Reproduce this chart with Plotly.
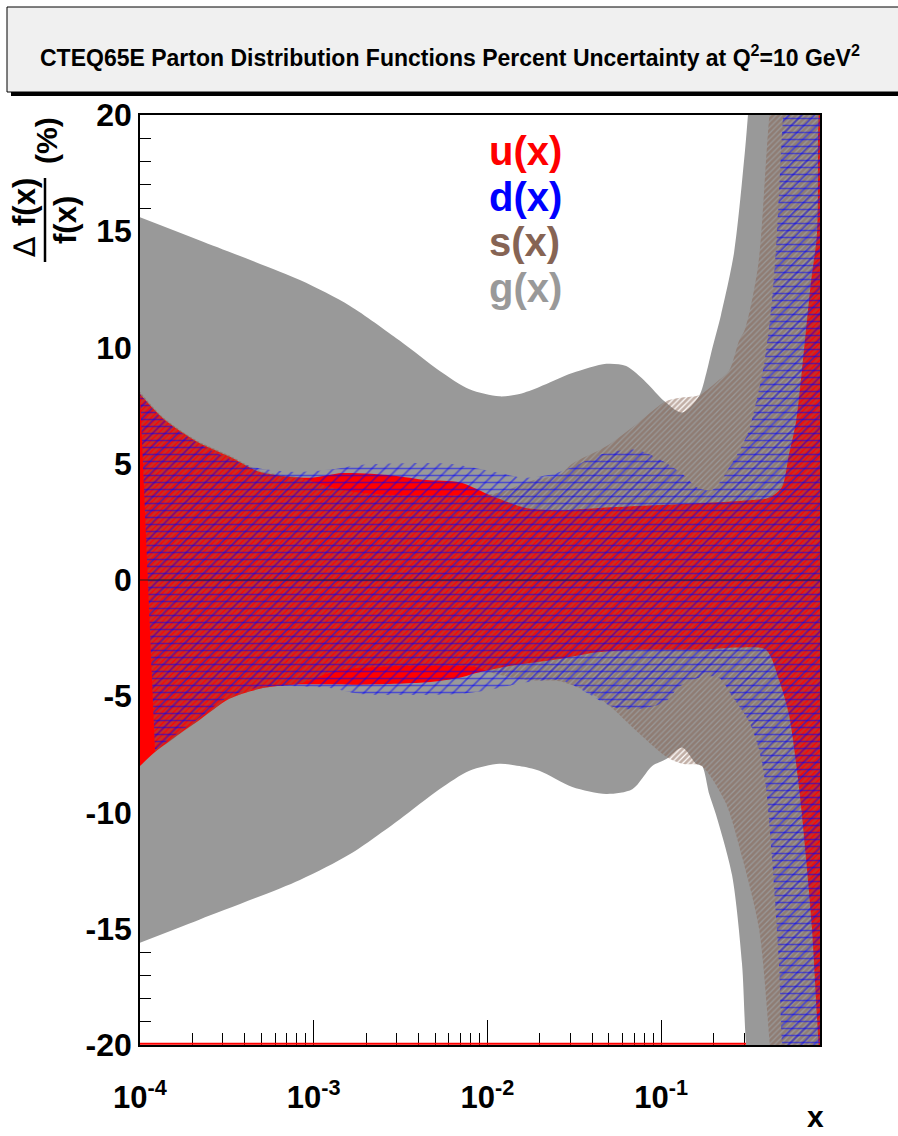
import math
import plotly.graph_objects as go

# ---------------- data (x = Bjorken x, y = percent uncertainty) ----------------
# g(x) band
G_UP_X = [1.00e-4, 2.21e-4, 8.33e-4, 1.61e-3, 3.12e-3, 5.29e-3, 7.88e-3, 1.17e-2, 1.53e-2, 1.99e-2,
          3.08e-2, 4.83e-2, 6.29e-2, 8.20e-2, 0.104, 0.132, 0.165, 0.182, 0.196, 0.221, 0.263,
          0.304, 0.316, 0.366, 0.821]
G_UP = [15.6, 14.6, 12.9, 11.8, 10.3, 9.0, 8.2, 7.9, 8.0, 8.3,
        8.9, 9.3, 9.2, 8.5, 7.7, 7.2, 7.9, 8.9, 9.9, 11.4, 14.1,
        18.5, 20.0, 26.0, 40.0]
G_LO_X = [1.00e-4, 2.21e-4, 8.33e-4, 1.61e-3, 3.12e-3, 5.29e-3, 7.88e-3, 1.17e-2, 1.53e-2, 1.99e-2,
          3.08e-2, 4.83e-2, 6.82e-2, 8.88e-2, 0.107, 0.132, 0.159, 0.172, 0.189, 0.207, 0.256,
          0.292, 0.308, 0.366, 0.821]
G_LO = [-15.6, -14.6, -12.9, -11.8, -10.3, -9.0, -8.2, -7.9, -8.0, -8.2,
        -8.9, -9.2, -9.0, -8.0, -7.7, -7.2, -7.9, -8.0, -9.2, -10.1, -12.7,
        -16.5, -20.0, -26.0, -40.0]

# u(x) band
U_UP_X = [1.00e-4, 1.36e-4, 2.13e-4, 3.29e-4, 4.89e-4, 9.49e-4, 1.47e-3, 2.84e-3, 4.46e-3, 6.90e-3,
          1.07e-2, 1.67e-2, 2.59e-2, 4.41e-2, 8.54e-2, 0.165, 0.281, 0.401, 0.434, 0.496, 0.544,
          0.597, 0.646, 0.728, 0.789, 0.800, 0.810, 0.821]
U_UP = [8.0, 6.95, 5.95, 5.3, 4.65, 4.4, 4.6, 4.5, 4.3, 4.2,
        3.6, 3.1, 3.0, 3.1, 3.2, 3.3, 3.4, 3.5, 3.6, 4.0, 5.4,
        6.8, 9.0, 12.8, 14.9, 19.2, 20.5, 23.0]
U_LO_X = [1.00e-4, 1.22e-4, 1.70e-4, 2.13e-4, 3.29e-4, 5.09e-4, 7.58e-4, 1.84e-3, 4.46e-3, 6.90e-3,
          8.64e-3, 1.34e-2, 2.59e-2, 4.41e-2, 7.47e-2, 0.165, 0.281, 0.401, 0.477, 0.544, 0.621,
          0.681, 0.738, 0.800, 0.821]
U_LO = [-8.0, -7.4, -6.6, -6.1, -5.1, -4.65, -4.5, -4.5, -4.4, -4.2,
        -4.0, -3.7, -3.4, -3.1, -3.0, -3.0, -2.9, -3.0, -4.3, -5.8, -8.9,
        -11.9, -15.0, -19.6, -21.0]

# s(x) band
S_UP_X = [1.00e-4, 1.36e-4, 2.13e-4, 3.29e-4, 4.89e-4, 8.33e-4, 1.24e-3, 1.84e-3, 3.12e-3, 6.90e-3,
          1.07e-2, 1.34e-2, 1.67e-2, 2.13e-2, 2.59e-2, 3.08e-2, 4.83e-2, 7.47e-2, 0.107, 0.132,
          0.165, 0.207, 0.246, 0.281, 0.304, 0.361, 0.423, 0.821]
S_UP = [8.1, 7.0, 6.0, 5.35, 4.7, 4.4, 4.0, 3.75, 3.65, 3.65,
        3.7, 3.9, 4.2, 4.4, 4.5, 5.0, 5.75, 6.8, 7.7, 7.85,
        7.95, 8.5, 9.0, 10.3, 10.8, 13.5, 20.3, 40.0]
S_LO_X = [1.22e-4, 2.13e-4, 3.29e-4, 5.09e-4, 8.33e-4, 1.36e-3, 3.12e-3, 6.90e-3, 8.64e-3, 1.07e-2,
          1.67e-2, 2.59e-2, 3.52e-2, 4.83e-2, 7.47e-2, 0.107, 0.132, 0.165, 0.182, 0.236, 0.292,
          0.366, 0.418, 0.428, 0.821]
S_LO = [-7.4, -6.1, -5.1, -4.65, -4.45, -3.9, -3.7, -3.7, -3.75, -4.0,
        -4.3, -4.35, -4.7, -5.3, -6.6, -7.6, -7.9, -7.95, -8.2, -9.6, -11.9,
        -15.0, -19.6, -20.5, -40.0]

# d(x) band
D_UP_X = [1.00e-4, 1.36e-4, 2.13e-4, 3.29e-4, 4.89e-4, 8.33e-4, 1.24e-3, 1.84e-3, 2.49e-3, 6.04e-3,
          1.02e-2, 1.67e-2, 2.50e-2, 4.83e-2, 7.18e-2, 0.107, 0.139, 0.159, 0.196, 0.256, 0.316,
          0.361, 0.396, 0.434, 0.464, 0.496, 0.509, 0.821]
D_UP = [8.0, 6.9, 5.9, 5.2, 4.8, 4.65, 4.75, 4.95, 5.0, 5.0,
        4.7, 4.4, 4.6, 5.46, 5.6, 5.03, 4.43, 4.0, 3.87, 5.03, 6.32,
        8.0, 9.5, 12.0, 14.9, 19.2, 20.5, 40.0]
D_LO_X = [1.22e-4, 2.13e-4, 3.29e-4, 5.09e-4, 1.24e-3, 1.84e-3, 6.90e-3, 1.07e-2, 1.67e-2, 2.59e-2,
          3.08e-2, 5.51e-2, 8.20e-2, 0.107, 0.127, 0.165, 0.215, 0.256, 0.321, 0.366, 0.401,
          0.434, 0.477, 0.496, 0.821]
D_LO = [-7.3, -6.0, -5.0, -4.6, -4.65, -4.9, -4.9, -4.7, -4.4, -4.3,
        -4.5, -5.5, -5.5, -5.2, -4.6, -4.2, -4.2, -5.0, -6.1, -7.3, -8.9,
        -11.9, -16.5, -20.0, -40.0]

X_MIN, X_MAX = 1.0e-4, 0.821
Y_MIN, Y_MAX = -20, 20
Y_TICKS = [-20, -15, -10, -5, 0, 5, 10, 15, 20]
X_TICKS = [1e-4, 1e-3, 1e-2, 1e-1]
X_TICK_TEXT = ["10<sup>-4</sup>", "10<sup>-3</sup>", "10<sup>-2</sup>", "10<sup>-1</sup>"]
X_MINOR = [m * 10.0 ** e for e in (-4, -3, -2, -1) for m in range(2, 10) if m * 10.0 ** e < X_MAX]
LEGEND = [("u(x)", "#ff0000"), ("d(x)", "#0000ff"), ("s(x)", "#866454"), ("g(x)", "#999999")]

GRAY = "#999999"
RED = "#ff0000"
BLUE = "#0000ff"
BROWN = "#86604e"
FONT = "Liberation Sans, Arial, Helvetica, sans-serif"

# ---------------- geometry helpers (pixel -> paper) ----------------
W, H = 898, 1136
ML, MR, MT, MB = 140, 78, 115, 91
PW, PH = W - ML - MR, H - MT - MB


def px(xp):
    return (xp - ML) / PW


def py(yp):
    return (H - MB - yp) / PH


def band(xu, yu, xl, yl):
    return list(xu) + list(reversed(xl)), list(yu) + list(reversed(yl))


fig = go.Figure()

# red line along the bottom of the frame
fig.add_trace(go.Scatter(x=[X_MIN, X_MAX], y=[Y_MIN + 0.05, Y_MIN + 0.05], mode="lines",
                         line=dict(color=RED, width=2), hoverinfo="skip", showlegend=False))

LINE0 = dict(width=0, shape="spline", smoothing=0.8)

bx, by = band(G_UP_X, G_UP, G_LO_X, G_LO)
fig.add_trace(go.Scatter(x=bx, y=by, mode="lines", fill="toself", fillcolor=GRAY,
                         line=LINE0, hoverinfo="skip", showlegend=False))

bx, by = band(U_UP_X, U_UP, U_LO_X, U_LO)
fig.add_trace(go.Scatter(x=bx, y=by, mode="lines", fill="toself", fillcolor=RED,
                         line=LINE0, hoverinfo="skip", showlegend=False))

bx, by = band(S_UP_X, S_UP, S_LO_X, S_LO)
fig.add_trace(go.Scatter(x=bx, y=by, mode="lines", fill="toself", fillcolor="rgba(0,0,0,0)",
                         fillpattern=dict(shape="/", fgcolor=BROWN, bgcolor="rgba(0,0,0,0)",
                                          size=4, solidity=0.7),
                         line=LINE0, hoverinfo="skip", showlegend=False))

bx, by = band(D_UP_X, D_UP, D_LO_X, D_LO)
for shp, sz, sol in (("-", 7, 0.22), ("/", 9, 0.18)):
    fig.add_trace(go.Scatter(x=bx, y=by, mode="lines", fill="toself", fillcolor="rgba(0,0,0,0)",
                             fillpattern=dict(shape=shp, fgcolor=BLUE, bgcolor="rgba(0,0,0,0)",
                                              size=sz, solidity=sol),
                             line=LINE0, hoverinfo="skip", showlegend=False))

# zero line
fig.add_trace(go.Scatter(x=[X_MIN, X_MAX], y=[0, 0], mode="lines",
                         line=dict(color="#202020", width=1), hoverinfo="skip", showlegend=False))

shapes = []
# title box shadow + box
shapes.append(dict(type="rect", xref="paper", yref="paper", x0=px(11), x1=px(910), y0=py(96), y1=py(11),
                   fillcolor="black", line=dict(width=0), layer="above"))
shapes.append(dict(type="rect", xref="paper", yref="paper", x0=px(7), x1=px(906), y0=py(92), y1=py(7),
                   fillcolor="#f0f0f0", line=dict(color="black", width=1), layer="above"))
# fraction bar of y title
shapes.append(dict(type="line", xref="paper", yref="paper", x0=px(45), x1=px(45), y0=py(262), y1=py(178),
                   line=dict(color="black", width=2.5)))

annotations = []
annotations.append(dict(xref="paper", yref="paper", x=px(450), y=py(56), showarrow=False,
                        text="CTEQ65E Parton Distribution Functions Percent Uncertainty at Q<sup>2</sup>=10 GeV<sup>2</sup>",
                        font=dict(family=FONT, size=23, color="black", weight="bold"),
                        xanchor="center", yanchor="middle"))
leg_y = [151, 197, 242, 288]
for (txt, col), yy in zip(LEGEND, leg_y):
    annotations.append(dict(xref="paper", yref="paper", x=px(487), y=py(yy), showarrow=False, text=txt,
                            font=dict(family=FONT, size=40, color=col, weight="bold"),
                            xanchor="left", yanchor="middle"))
# y title pieces (rotated)
annotations.append(dict(xref="paper", yref="paper", x=px(46), y=py(141), showarrow=False, text="(%)",
                        textangle=-90, font=dict(family=FONT, size=30, color="black", weight="bold"),
                        xanchor="center", yanchor="middle"))
annotations.append(dict(xref="paper", yref="paper", x=px(25), y=py(202), showarrow=False, text="f(x)",
                        textangle=-90, font=dict(family=FONT, size=31, color="black", weight="bold"),
                        xanchor="center", yanchor="middle"))
annotations.append(dict(xref="paper", yref="paper", x=px(24), y=py(247), showarrow=False, text="\u2206",
                        textangle=-90, font=dict(family="DejaVu Sans, sans-serif", size=30, color="black"),
                        xanchor="center", yanchor="middle"))
annotations.append(dict(xref="paper", yref="paper", x=px(65), y=py(220), showarrow=False, text="f(x)",
                        textangle=-90, font=dict(family=FONT, size=31, color="black", weight="bold"),
                        xanchor="center", yanchor="middle"))
annotations.append(dict(xref="paper", yref="paper", x=px(815), y=py(1116), showarrow=False, text="x",
                        font=dict(family=FONT, size=30, color="black", weight="bold"),
                        xanchor="center", yanchor="middle"))

fig.update_layout(
    width=W, height=H, margin=dict(l=ML, r=MR, t=MT, b=MB, pad=0),
    paper_bgcolor="white", plot_bgcolor="white", showlegend=False,
    shapes=shapes, annotations=annotations,
    xaxis=dict(type="log", range=[math.log10(X_MIN), math.log10(X_MAX)],
               tickmode="array", tickvals=X_TICKS, ticktext=X_TICK_TEXT,
               ticks="inside", ticklen=25, tickwidth=1, tickcolor="black",
               showline=True, linecolor="black", linewidth=1.5, mirror=True,
               showgrid=False, zeroline=False, layer="below traces",
               ticklabelstandoff=24,
               tickfont=dict(family=FONT, size=31, color="black", weight="bold"),
               minor=dict(tickmode="array", tickvals=X_MINOR, ticks="inside", ticklen=12,
                          tickwidth=1, tickcolor="black", showgrid=False)),
    yaxis=dict(range=[Y_MIN, Y_MAX], tickmode="array", tickvals=Y_TICKS,
               ticktext=[str(v) for v in Y_TICKS],
               ticks="inside", ticklen=22, tickwidth=1, tickcolor="black",
               showline=True, linecolor="black", linewidth=1.5, mirror=True,
               showgrid=False, zeroline=False, layer="below traces",
               ticklabelstandoff=0,
               tickfont=dict(family=FONT, size=32, color="black", weight="bold"),
               minor=dict(tickmode="linear", tick0=0, dtick=1, ticks="inside", ticklen=11,
                          tickwidth=1, tickcolor="black", showgrid=False)),
)

fig.write_html("out.html")
